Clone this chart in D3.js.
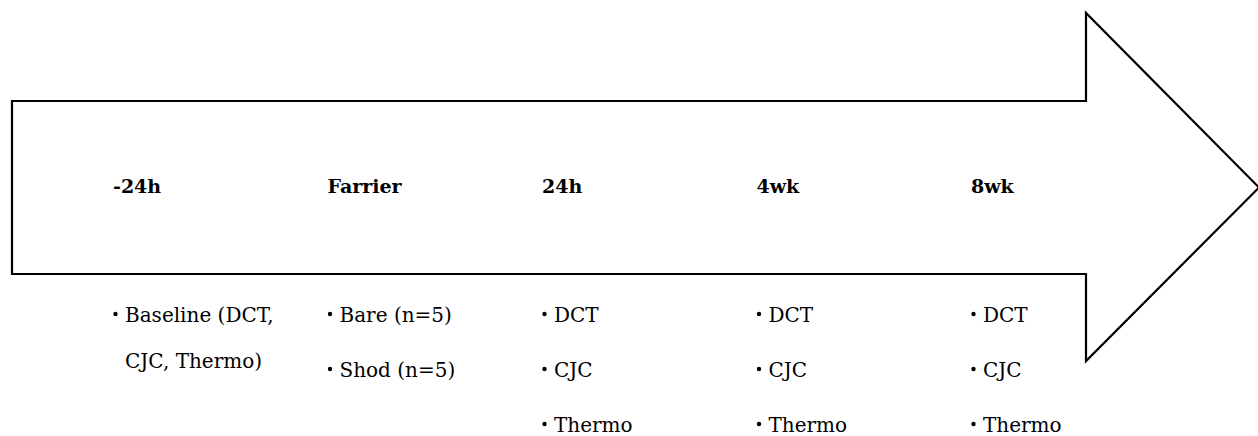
<!DOCTYPE html>
<html>
<head>
<meta charset="utf-8">
<script src="https://cdn.jsdelivr.net/npm/d3@7"></script>
<style>
  html, body { margin: 0; padding: 0; background: #fff; }
  svg { display: block; }
</style>
</head>
<body>
<div id="chart"></div>
<script>
// Timeline stages and what was measured at each
const stages = ["-24h", "Farrier", "24h", "4wk", "8wk"];
const stageItems = [
    [["Baseline (DCT,", "CJC, Thermo)"]],
    [["Bare (n=5)"], ["Shod (n=5)"]],
    [["DCT"], ["CJC"], ["Thermo"]],
    [["DCT"], ["CJC"], ["Thermo"]],
    [["DCT"], ["CJC"], ["Thermo"]]
];

{
    const width = 1258, height = 436;

    const svg = d3.select("#chart")
        .append("svg")
        .attr("width", width)
        .attr("height", height);

    // Arrow outline
    const shaft = { left: 12, right: 1086, top: 101, bottom: 274 };
    const head = { top: 13, bottom: 361, tip: 1259 };
    const midY = (shaft.top + shaft.bottom) / 2;

    const arrow = d3.path();
    arrow.moveTo(shaft.left, shaft.top);
    arrow.lineTo(shaft.right, shaft.top);
    arrow.lineTo(shaft.right, head.top);
    arrow.lineTo(head.tip, midY);
    arrow.lineTo(shaft.right, head.bottom);
    arrow.lineTo(shaft.right, shaft.bottom);
    arrow.lineTo(shaft.left, shaft.bottom);
    arrow.closePath();

    svg.append("path")
        .attr("d", arrow.toString())
        .attr("fill", "none")
        .attr("stroke", "#000")
        .attr("stroke-width", 2.2)
        .attr("stroke-linejoin", "miter");

    const x = d3.scalePoint()
        .domain(stages)
        .range([113, 971]);

    // Stage headings inside the arrow
    svg.append("g")
        .selectAll("text")
        .data(stages)
        .join("text")
        .attr("x", d => x(d))
        .attr("y", 193)
        .attr("font-family", "'DejaVu Serif', serif")
        .attr("font-weight", "bold")
        .attr("font-size", "19px")
        .attr("fill", "#000")
        .text(d => d);

    // Bullet lists below the arrow
    const rowY = d3.scaleLinear().domain([0, 1]).range([322, 377]);
    const wrapGap = 46;

    const lists = svg.append("g")
        .selectAll("g")
        .data(stages)
        .join("g")
        .attr("transform", d => `translate(${x(d)},0)`);

    lists.each(function (d, i) {
        const g = d3.select(this);
        stageItems[i].forEach((lines, r) => {
            const y0 = rowY(r);
            g.append("circle")
                .attr("cx", 2.5)
                .attr("cy", y0 - 8)
                .attr("r", 2.2)
                .attr("fill", "#000");
            lines.forEach((line, k) => {
                g.append("text")
                    .attr("x", 12)
                    .attr("y", y0 + k * wrapGap)
                    .attr("font-family", "'DejaVu Serif', serif")
                    .attr("font-size", "20px")
                    .attr("fill", "#000")
                    .text(line);
            });
        });
    });
}
</script>
</body>
</html>
